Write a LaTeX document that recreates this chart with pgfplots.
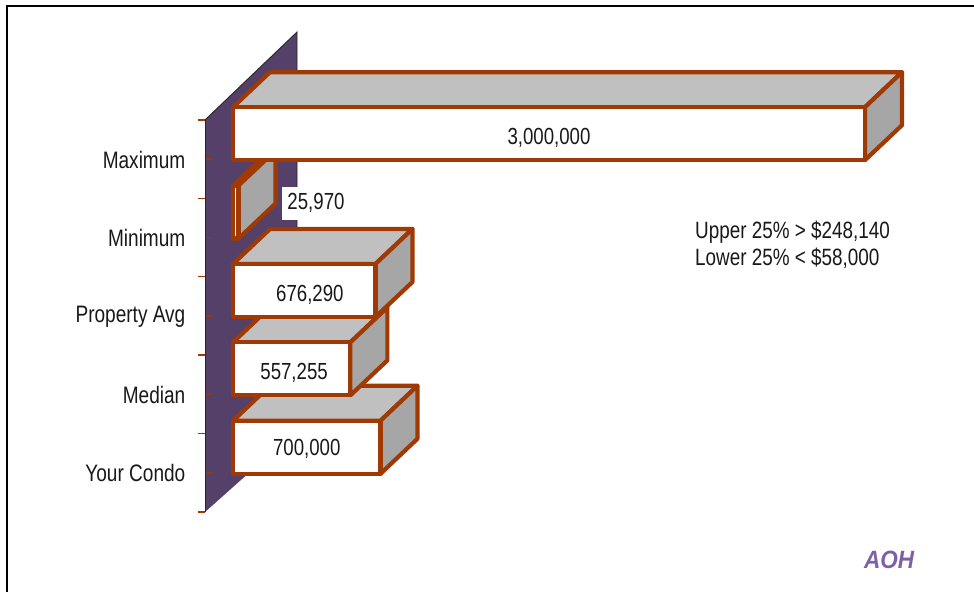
\documentclass[border=0pt]{standalone}
\usepackage{fontspec}
\usepackage{pgfplots}
\pgfplotsset{compat=1.18}
\setmainfont[FakeStretch=0.8]{Liberation Sans}
\newfontfamily\signfont[FakeStretch=0.9]{Liberation Sans}
\definecolor{wallpurple}{RGB}{84,64,104}
\definecolor{barrust}{RGB}{160,58,4}
\definecolor{topgrey}{RGB}{192,192,192}
\definecolor{sidegrey}{RGB}{166,166,166}
\definecolor{signpurple}{RGB}{127,96,168}
\newcommand{\chartfont}{\fontsize{23.3}{28}\selectfont}

% Depth of the extruded bars, in data units of the two axes
\newcommand{\depthx}{175633}
\newcommand{\depthy}{0.446}
\newcommand{\faceh}{0.676}

% Extruded bar: #1 = value, #2 = category position
\newcommand{\boxbar}[2]{%
  \begingroup
  \pgfkeys{/pgf/fpu=true,/pgf/fpu/output format=fixed}%
  \pgfmathparse{#1+\depthx}\xdef\xback{\pgfmathresult}%
  \pgfmathparse{\depthx}\xdef\xzero{\pgfmathresult}%
  \pgfmathparse{#2-0.012}\xdef\ylow{\pgfmathresult}%
  \pgfmathparse{#2-0.012+\faceh}\xdef\yhigh{\pgfmathresult}%
  \pgfmathparse{#2-0.012+\depthy}\xdef\ylowback{\pgfmathresult}%
  \pgfmathparse{#2-0.012+\faceh+\depthy}\xdef\yhighback{\pgfmathresult}%
  \endgroup
  \addplot[barface, fill=topgrey] coordinates
    {(0,\yhigh) (\xzero,\yhighback) (\xback,\yhighback) (#1,\yhigh)} --cycle;
  \addplot[barface, fill=sidegrey] coordinates
    {(#1,\ylow) (#1,\yhigh) (\xback,\yhighback) (\xback,\ylowback)} --cycle;
  \addplot[barface, fill=white] coordinates
    {(0,\ylow) (0,\yhigh) (#1,\yhigh) (#1,\ylow)} --cycle;
}

\begin{document}
\begin{tikzpicture}[x=1pt,y=1pt,font=\chartfont]
  \path[use as bounding box] (0,0) rectangle (974,592);
  \fill[white] (0,0) rectangle (974,592);
  % frame along the top and left of the page
  \draw[black, line width=2pt] (974,585.5) -- (6.5,585.5) -- (6.5,0);

  \begin{axis}[
    at={(205pt,80pt)}, anchor=south west,
    scale only axis, width=700pt, height=392pt,
    xmin=-132911, xmax=3189873,
    ymin=-0.5, ymax=4.5,
    clip=false,
    axis on top,
    axis x line=none,
    axis y line=left,
    y axis line style={-, draw=black!85, line width=0.9pt},
    xtick=\empty,
    ytick={0,1,2,3,4},
    yticklabels={Your Condo,Median,Property Avg,Minimum,Maximum},
    yticklabel style={anchor=east, inner sep=0pt, xshift=-19.5pt, yshift=-0.5pt, text=black!90,
                      font=\fontsize{23.8}{28}\selectfont},
    tick align=inside,
    major tick length=6.5pt,
    tick style={draw=barrust, line width=1.4pt},
    extra y ticks={-0.5,0.5,1.5,2.5,3.5,4.5},
    extra y tick labels={},
    extra y tick style={tick align=outside, major tick length=7.5pt},
    barface/.style={draw=barrust, line width=4.2pt, line join=round},
  ]
    % back wall
    \addplot[fill=wallpurple, draw=none] coordinates
      {(-132911,-0.5) (-132911,4.5) (303797,5.622) (303797,0.546)} --cycle;
    \addplot[draw=black!85, line width=0.9pt] coordinates
      {(-132911,4.5) (303797,5.622) (303797,0.546)};

    % bars, nearest the viewer last from the bottom up
    \boxbar{700000}{0}
    \boxbar{557255}{1}
    \boxbar{676290}{2}
    \boxbar{25970}{3}
    \boxbar{3000000}{4}

    % values on the bars
    \node[text=black!90] at (axis cs:1500000,4.27) {3,000,000};
    \node[fill=white, inner sep=0pt, minimum width=68pt, minimum height=33pt, text=black!90]
      at (axis cs:393987,3.44) {25,970};
    \node[text=black!90] at (axis cs:365000,2.27) {676,290};
    \node[text=black!90] at (axis cs:290000,1.27) {557,255};
    \node[text=black!90] at (axis cs:350000,0.31) {700,000};
  \end{axis}

  \node[anchor=west, inner sep=0pt, text=black!90] at (695,360) {\fontsize{23.6}{28}\selectfont Upper 25\% > \$248,140};
  \node[anchor=west, inner sep=0pt, text=black!90] at (695,334) {\fontsize{23.6}{28}\selectfont Lower 25\% < \$58,000};
  \node[anchor=center, inner sep=0pt, text=signpurple]
    at (889,32) {\signfont\fontsize{25}{30}\selectfont\bfseries\itshape AOH};
\end{tikzpicture}
\end{document}
